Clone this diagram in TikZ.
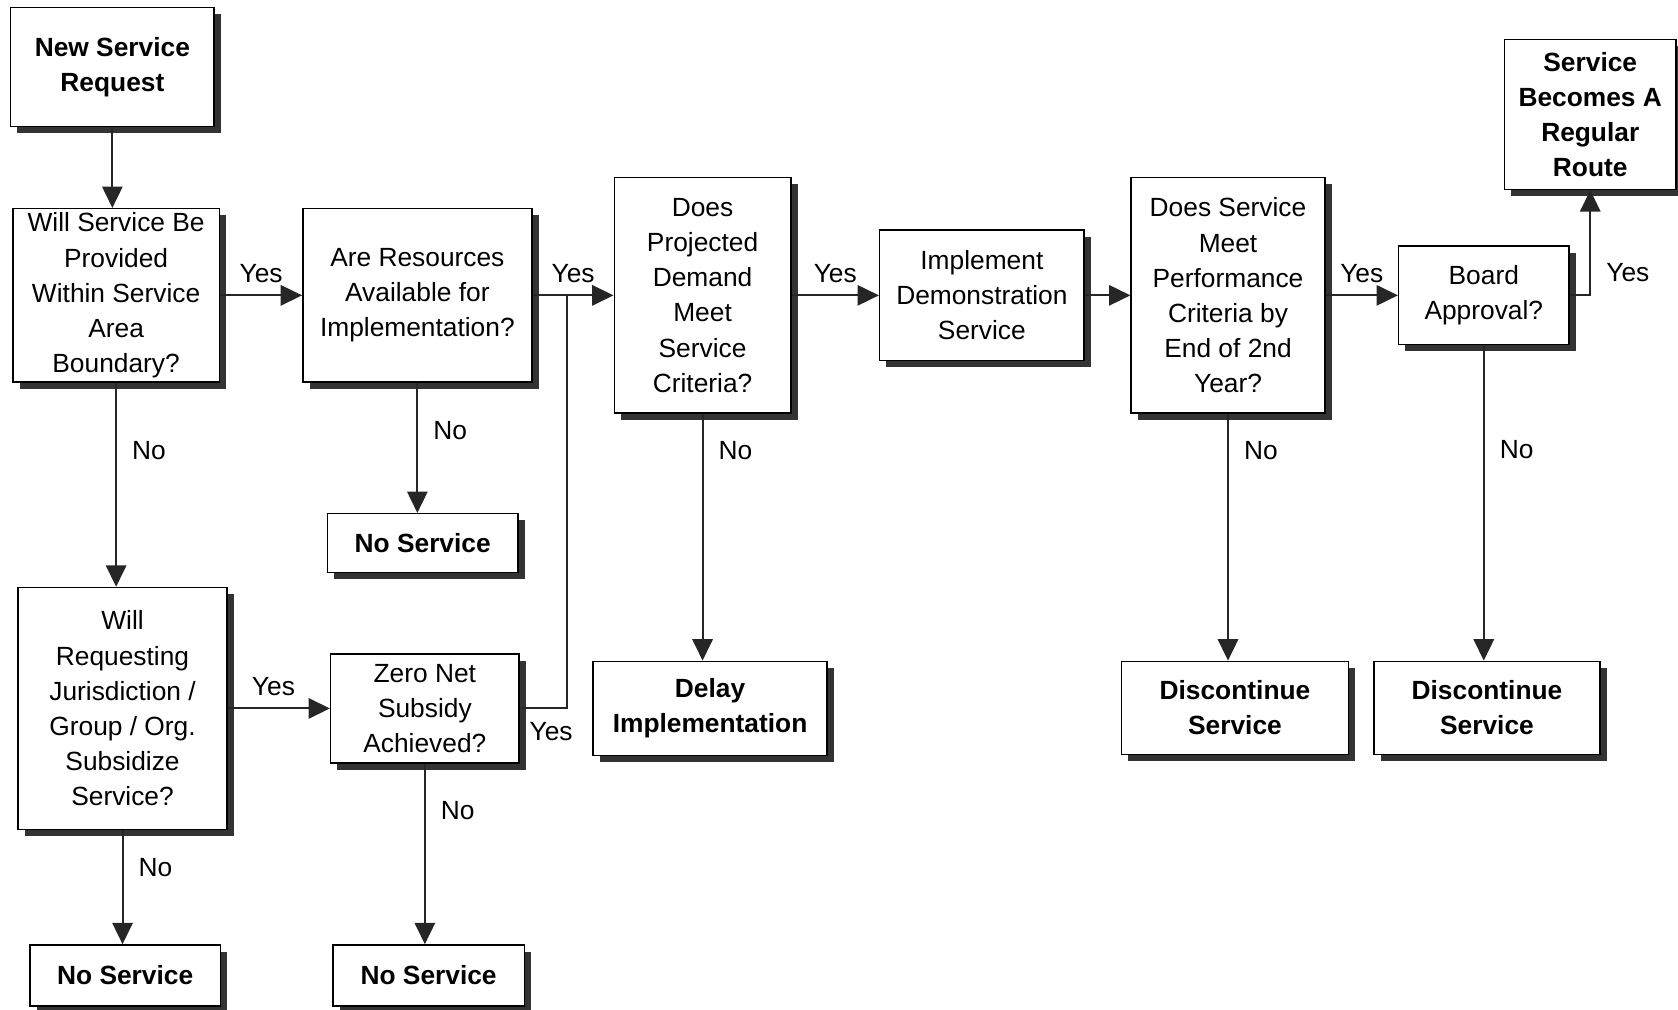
\documentclass[tikz,border=0pt]{standalone}
\usepackage{fontspec}
\setmainfont{Liberation Sans}
\usetikzlibrary{arrows.meta,shadows}
\begin{document}
\begin{tikzpicture}[>={Triangle[length=4mm,width=3.8mm]},
  box/.style={draw, line width=0.8pt, fill=white, align=center, inner sep=0pt,
    font=\fontsize{14pt}{18.7pt}\selectfont,
    drop shadow={shadow xshift=1.25mm, shadow yshift=-1.25mm, fill=black!80, opacity=1}},
  endbox/.style={box, font=\fontsize{14pt}{18.7pt}\selectfont\bfseries},
  lab/.style={font=\fontsize{14pt}{18.7pt}\selectfont, inner sep=2pt},
  flow/.style={->, line width=1.1pt, draw=black!85}]
\useasboundingbox (0,0) rectangle (31.36,-18.86);
% top row
\node[endbox, minimum width=3.8cm, minimum height=2.22cm] (new) at (2.10,-1.25) {New Service\\Request};
\node[box, minimum width=3.86cm, minimum height=3.24cm] (q1) at (2.17,-5.52) {Will Service Be\\Provided\\Within Service\\Area\\Boundary?};
\node[box, minimum width=4.28cm, minimum height=3.24cm] (q2) at (7.80,-5.52) {Are Resources\\Available for\\Implementation?};
\node[box, minimum width=3.3cm, minimum height=4.4cm] (q3) at (13.13,-5.52) {Does\\Projected\\Demand\\Meet\\Service\\Criteria?};
\node[box, minimum width=3.82cm, minimum height=2.44cm] (impl) at (18.35,-5.52) {Implement\\Demonstration\\Service};
\node[box, minimum width=3.62cm, minimum height=4.4cm] (q4) at (22.95,-5.52) {Does Service\\Meet\\Performance\\Criteria by\\End of 2nd\\Year?};
\node[box, minimum width=3.18cm, minimum height=1.84cm] (board) at (27.73,-5.52) {Board\\Approval?};
\node[endbox, minimum width=3.2cm, minimum height=2.8cm] (route) at (29.72,-2.14) {Service\\Becomes A\\Regular\\Route};
% lower rows
\node[endbox, minimum width=3.56cm, minimum height=1.1cm] (ns1) at (7.90,-10.15) {No Service};
\node[box, minimum width=3.9cm, minimum height=4.52cm] (q5) at (2.29,-13.24) {Will\\Requesting\\Jurisdiction /\\Group / Org.\\Subsidize\\Service?};
\node[box, minimum width=3.52cm, minimum height=2.04cm] (q6) at (7.94,-13.24) {Zero Net\\Subsidy\\Achieved?};
\node[endbox, minimum width=4.38cm, minimum height=1.76cm] (delay) at (13.27,-13.24) {Delay\\Implementation};
\node[endbox, minimum width=4.24cm, minimum height=1.74cm] (disc1) at (23.08,-13.23) {Discontinue\\Service};
\node[endbox, minimum width=4.22cm, minimum height=1.74cm] (disc2) at (27.79,-13.23) {Discontinue\\Service};
\node[endbox, minimum width=3.56cm, minimum height=1.14cm] (ns2) at (2.34,-18.23) {No Service};
\node[endbox, minimum width=3.58cm, minimum height=1.14cm] (ns3) at (8.01,-18.23) {No Service};
\coordinate (join) at (10.6,-5.52);
% connectors
\draw[flow] (new.south) -- (new.south |- q1.north);
\draw[flow] (q1) -- node[lab, above=4pt]{Yes} (q2);
\draw[flow] (q2) -- node[lab, above=4pt]{Yes} (q3);
\draw[flow] (q3) -- node[lab, above=4pt]{Yes} (impl);
\draw[flow] (impl) -- (q4);
\draw[flow] (q4) -- node[lab, above=4pt]{Yes} (board);
\draw[flow] (board.east) -| node[lab, right=6pt, pos=0.61]{Yes} (route.south);
\draw[flow] (q1.south) -- node[lab, right=6pt, pos=0.33]{No} (q1.south |- q5.north);
\draw[flow] (q2.south) -- node[lab, right=6pt, pos=0.37]{No} (q2.south |- ns1.north);
\draw[flow] (q3.south) -- node[lab, right=6pt, pos=0.15]{No} (q3.south |- delay.north);
\draw[flow] (q4.south) -- node[lab, right=6pt, pos=0.15]{No} (q4.south |- disc1.north);
\draw[flow] (board.south) -- node[lab, right=6pt, pos=0.33]{No} (board.south |- disc2.north);
\draw[flow] (q5) -- node[lab, above=4pt, xshift=-1mm]{Yes} (q6);
\draw[line width=1.1pt, draw=black!85] (q6.east) -| node[lab, below=5pt, xshift=-3mm]{Yes} (join);
\draw[flow] (q6.south) -- node[lab, right=6pt, pos=0.26]{No} (q6.south |- ns3.north);
\draw[flow] (q5.south) -- node[lab, right=6pt, pos=0.33]{No} (q5.south |- ns2.north);
\end{tikzpicture}
\end{document}
